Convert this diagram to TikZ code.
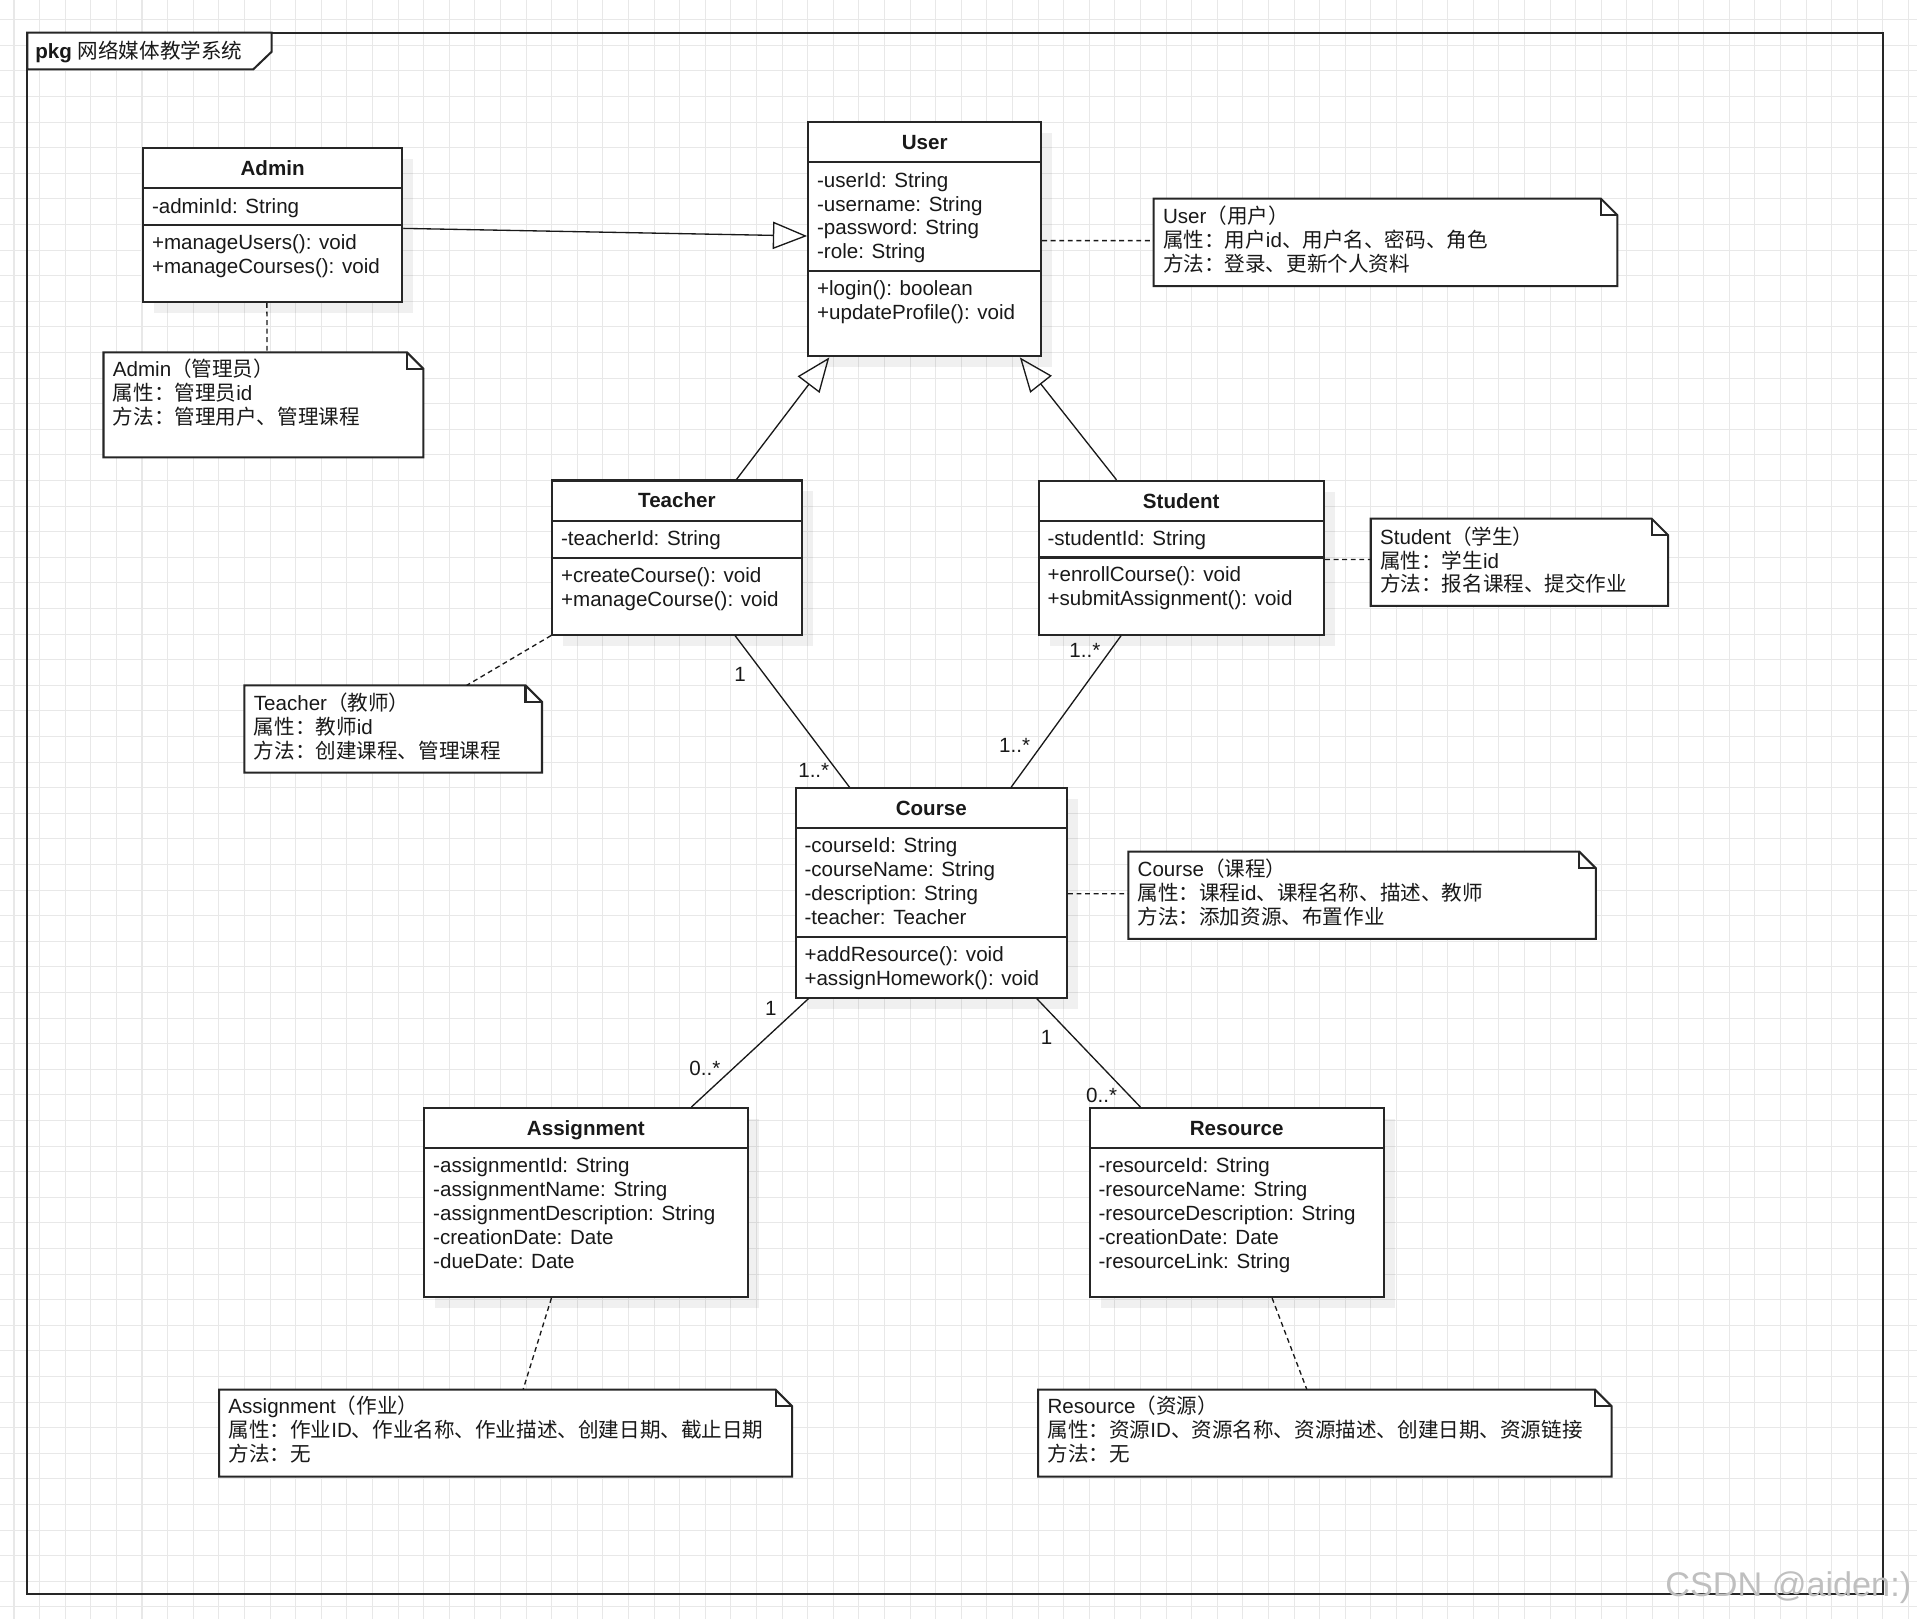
\documentclass[tikz,border=0pt]{standalone}
\usepackage{fontspec}
\setmainfont{Liberation Sans}
\newfontfamily\cjk{Noto Sans CJK SC}
\usetikzlibrary{arrows.meta,calc,fit}

\newcommand{\classbox}[6]{%
  \fill[shadowbox] (#2+9,#3+9) rectangle (#4+9,#5+9);
  \node[box, fit={(#2,#3) (#4,#5)}, inner sep=0pt] (#1) {};
  \draw[sepline] (#2,#6) -- (#4,#6);}
\newcommand{\notebox}[5]{%
  \node[fit={(#2,#3) (#4,#5)}, inner sep=0pt] (#1) {};
  \draw[box] (#1.north west) -- ($(#1.north east)+(-13.5,0)$) -- ($(#1.north east)+(0,13.5)$) -- (#1.south east) -- (#1.south west) -- cycle;
  \draw[sepline] ($(#1.north east)+(-13.5,0)$) -- ++(0,13.5) -- ++(13.5,0);}

\begin{document}
\begin{tikzpicture}[x=0.6pt,y=-0.6pt,
  box/.style={draw=black!85, line width=1pt, fill=white},
  sepline/.style={draw=black!85, line width=1pt},
  shadowbox/.style={fill=black, fill opacity=0.06},
  txt/.style={anchor=base west, inner sep=0pt, text=black!90, font=\fontsize{10.1}{12}\selectfont},
  ttl/.style={anchor=base, inner sep=0pt, text=black!90, font=\fontsize{10.1}{12}\selectfont\bfseries},
  gen/.style={draw=black!90, line width=0.65pt, -{Triangle[open,length=16.8pt,width=13.4pt]}},
  assoc/.style={draw=black!90, line width=0.65pt},
  link/.style={draw=black!90, line width=0.65pt, dash pattern=on 2.4pt off 1.8pt},
  mult/.style={inner sep=0pt, text=black!90, font=\fontsize{10.1}{12}\selectfont},
]
\useasboundingbox (0,0) rectangle (1568,1324.2);
\fill[white] (0,0) rectangle (1568,1324.2);
% grid
\foreach \k in {0,...,74} {
  \draw[black!9, line width=0.5pt] (11.45+20.94*\k,0) -- (11.45+20.94*\k,1324.2);
}
\foreach \k in {0,...,63} {
  \draw[black!9, line width=0.5pt] (0,16.1+20.94*\k) -- (1568,16.1+20.94*\k);
}
% package frame
\node[draw=black!85, line width=1pt, fit={(22.3,26.7) (1540.5,1304)}, inner sep=0pt] (pkg) {};
\draw[box] (22.3,26.7) -- (222.2,26.7) -- (222.2,42.3) -- (207.2,56.7) -- (22.3,56.7) -- cycle;
\node[txt] (pkgtitle) at (28.6,47.7) {\textbf{pkg} {\cjk 网络媒体教学系统}};

% classes
\classbox{admin}{117}{121}{329}{247}{154}
\draw[sepline] (117,184) -- (329,184);
\node[ttl] at (223,143.5) {Admin};
\node[txt] at (124,174.3) {-adminId: String};
\node[txt] at (124,204) {+manageUsers(): void};
\node[txt] at (124,223.6) {+manageCourses(): void};

\classbox{user}{661}{100}{851.6}{291.5}{132.7}
\draw[sepline] (661,222) -- (851.6,222);
\node[ttl] at (756.3,122.4) {User};
\node[txt] at (668,153) {-userId: String};
\node[txt] at (668,172.6) {-username: String};
\node[txt] at (668,192.2) {-password: String};
\node[txt] at (668,211.8) {-role: String};
\node[txt] at (668,242) {+login(): boolean};
\node[txt] at (668,261.6) {+updateProfile(): void};

\classbox{teacher}{451.6}{393}{655.8}{519}{426}
\draw[sepline] (451.6,456.3) -- (655.8,456.3);
\node[ttl] at (553.7,415.5) {Teacher};
\node[txt] at (458.6,446) {-teacherId: String};
\node[txt] at (458.6,476.3) {+createCourse(): void};
\node[txt] at (458.6,495.9) {+manageCourse(): void};

\classbox{student}{849.5}{393.3}{1083}{519}{426}
\draw[sepline] (849.5,456) -- (1083,456);
\node[ttl] at (966.2,415.6) {Student};
\node[txt] at (856.5,446) {-studentId: String};
\node[txt] at (856.5,476) {+enrollCourse(): void};
\node[txt] at (856.5,495.6) {+submitAssignment(): void};

\classbox{course}{650.7}{644.8}{872.7}{816}{677}
\draw[sepline] (650.7,766.6) -- (872.7,766.6);
\node[ttl] at (761.7,666.9) {Course};
\node[txt] at (657.7,697) {-courseId: String};
\node[txt] at (657.7,716.6) {-courseName: String};
\node[txt] at (657.7,736.2) {-description: String};
\node[txt] at (657.7,755.8) {-teacher: Teacher};
\node[txt] at (657.7,786.6) {+addResource(): void};
\node[txt] at (657.7,806.2) {+assignHomework(): void};

\classbox{assignment}{347}{906.3}{611.5}{1060.9}{939}
\node[ttl] at (479.2,928.6) {Assignment};
\node[txt] at (354,959.2) {-assignmentId: String};
\node[txt] at (354,978.8) {-assignmentName: String};
\node[txt] at (354,998.4) {-assignmentDescription: String};
\node[txt] at (354,1018) {-creationDate: Date};
\node[txt] at (354,1037.6) {-dueDate: Date};

\classbox{resource}{891.2}{906.3}{1131.7}{1060.9}{939}
\node[ttl] at (1011.5,928.6) {Resource};
\node[txt] at (898.2,959.2) {-resourceId: String};
\node[txt] at (898.2,978.8) {-resourceName: String};
\node[txt] at (898.2,998.4) {-resourceDescription: String};
\node[txt] at (898.2,1018) {-creationDate: Date};
\node[txt] at (898.2,1037.6) {-resourceLink: String};

% notes
\notebox{adminnote}{85}{288.5}{346}{373.8}
\node[txt] at (92,308) {Admin{\cjk （管理员）}};
\node[txt] at (92,327.6) {{\cjk 属性：管理员}id};
\node[txt] at (92,347.2) {{\cjk 方法：管理用户、管理课程}};

\notebox{usernote}{944}{162.8}{1322.6}{233.7}
\node[txt] at (951,183) {User{\cjk （用户）}};
\node[txt] at (951,202.6) {{\cjk 属性：用户}id{\cjk 、用户名、密码、角色}};
\node[txt] at (951,222.2) {{\cjk 方法：登录、更新个人资料}};

\notebox{studentnote}{1121.5}{424.5}{1364}{495.3}
\node[txt] at (1128.5,445) {Student{\cjk （学生）}};
\node[txt] at (1128.5,464.6) {{\cjk 属性：学生}id};
\node[txt] at (1128.5,484.2) {{\cjk 方法：报名课程、提交作业}};

\notebox{teachernote}{200.3}{560.9}{443}{631.6}
\node[txt] at (207.3,581) {Teacher{\cjk （教师）}};
\node[txt] at (207.3,600.6) {{\cjk 属性：教师}id};
\node[txt] at (207.3,620.2) {{\cjk 方法：创建课程、管理课程}};

\notebox{coursenote}{923.2}{696.9}{1304.9}{767.6}
\node[txt] at (930.2,717) {Course{\cjk （课程）}};
\node[txt] at (930.2,736.6) {{\cjk 属性：课程}id{\cjk 、课程名称、描述、教师}};
\node[txt] at (930.2,756.2) {{\cjk 方法：添加资源、布置作业}};

\notebox{assignnote}{179.5}{1137}{647.5}{1207.5}
\node[txt] at (186.5,1156.5) {Assignment{\cjk （作业）}};
\node[txt] at (186.5,1176.1) {{\cjk 属性：作业}ID{\cjk 、作业名称、作业描述、创建日期、截止日期}};
\node[txt] at (186.5,1195.7) {{\cjk 方法：无}};

\notebox{resnote}{849.5}{1137}{1317.8}{1207.5}
\node[txt] at (856.5,1156.5) {Resource{\cjk （资源）}};
\node[txt] at (856.5,1176.1) {{\cjk 属性：资源}ID{\cjk 、资源名称、资源描述、创建日期、资源链接}};
\node[txt] at (856.5,1195.7) {{\cjk 方法：无}};

% generalizations
\draw[gen] ($(admin.north east)!0.522!(admin.south east)$) -- ($(user.north west)!0.486!(user.south west)$);
\draw[gen] ($(teacher.north west)!0.7365!(teacher.north east)$) -- ($(user.south west)!0.0944!(user.south east)$);
\draw[gen] ($(student.north west)!0.2745!(student.north east)$) -- ($(user.south west)!0.905!(user.south east)$);

% associations
\draw[assoc] ($(teacher.south west)!0.7307!(teacher.south east)$) -- ($(course.north west)!0.2014!(course.north east)$);
\draw[assoc] ($(student.south west)!0.2908!(student.south east)$) -- ($(course.north west)!0.7919!(course.north east)$);
\draw[assoc] ($(course.south west)!0.0509!(course.south east)$) -- ($(assignment.north west)!0.8242!(assignment.north east)$);
\draw[assoc] ($(course.south west)!0.886!(course.south east)$) -- ($(resource.north west)!0.175!(resource.north east)$);

\node[mult] at (605.3,552) {1};
\node[mult] at (665.6,630.4) {1..*};
\node[mult] at (887.3,532) {1..*};
\node[mult] at (829.9,610) {1..*};
\node[mult] at (630.6,824.7) {1};
\node[mult] at (576.5,873.6) {0..*};
\node[mult] at (856.1,848.5) {1};
\node[mult] at (901.1,895.6) {0..*};

% note links
\draw[link] ($(admin.south west)!0.478!(admin.south east)$) -- ($(adminnote.north west)!0.511!(adminnote.north east)$);
\draw[link] ($(user.north east)!0.5055!(user.south east)$) -- ($(usernote.north west)!0.48!(usernote.south west)$);
\draw[link] (teacher.south west) -- ($(teachernote.north west)!0.747!(teachernote.north east)$);
\draw[link] ($(student.north east)!0.512!(student.south east)$) -- ($(studentnote.north west)!0.469!(studentnote.south west)$);
\draw[link] ($(course.north east)!0.5035!(course.south east)$) -- ($(coursenote.north west)!0.482!(coursenote.south west)$);
\draw[link] ($(assignment.south west)!0.394!(assignment.south east)$) -- ($(assignnote.north west)!0.5306!(assignnote.north east)$);
\draw[link] ($(resource.south west)!0.62!(resource.south east)$) -- ($(resnote.north west)!0.4687!(resnote.north east)$);

% watermark
\node[anchor=base west, inner sep=0pt, text=black!25, font=\fontsize{16.8}{19}\selectfont] (wm) at (1361.8,1305.5) {CSDN @aiden:)};
\end{tikzpicture}
\end{document}
